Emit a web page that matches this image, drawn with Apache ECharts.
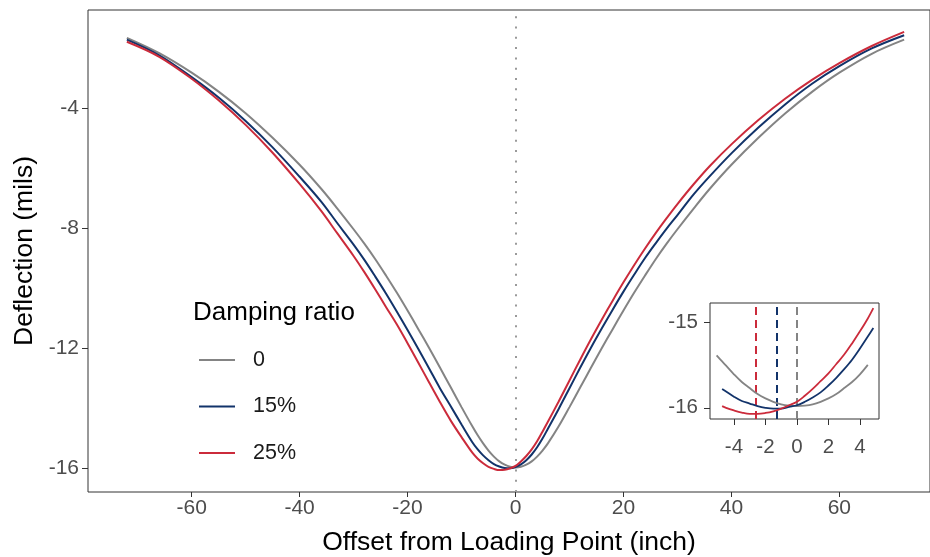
<!DOCTYPE html>
<html>
<head>
<meta charset="utf-8">
<script src="https://cdn.jsdelivr.net/npm/echarts@6/dist/echarts.min.js"></script>
<style>
  html, body { margin: 0; padding: 0; background: #fff; }
  #chart { width: 930px; height: 557px; }
</style>
</head>
<body>
<div id="chart"></div>
<script>
// Offsets (inch) shared by the three deflection profiles
const offsets = [-72, -66, -60, -55, -50, -45, -40, -36, -33, -30, -28, -26, -24, -22, -20, -18, -16, -14, -12, -10, -8, -7, -6, -5, -4, -3, -2, -1,
  0, 1, 2, 3, 4, 5, 6, 8, 10, 12, 14, 16, 18, 20, 22, 24, 26, 28, 30, 33, 36, 40, 45, 50, 55, 60, 66, 72];

// Deflection (mils), damping ratio 0
const defl0 = [-1.66, -2.17, -2.82, -3.45, -4.17, -4.99, -5.89, -6.69, -7.35, -8.04, -8.52, -9.03, -9.58, -10.15, -10.75, -11.37, -12.00, -12.65, -13.31, -13.97, -14.61, -14.91, -15.18, -15.42, -15.62, -15.78, -15.89, -15.96,
  -15.98, -15.96, -15.89, -15.78, -15.62, -15.42, -15.18, -14.61, -13.97, -13.31, -12.65, -12.00, -11.37, -10.75, -10.15, -9.58, -9.03, -8.52, -8.04, -7.35, -6.69, -5.89, -4.99, -4.17, -3.45, -2.82, -2.19, -1.72];

// Deflection (mils), damping ratio 15%
const defl15 = [-1.72, -2.24, -2.97, -3.65, -4.43, -5.31, -6.29, -7.12, -7.84, -8.55, -9.06, -9.61, -10.18, -10.78, -11.40, -12.03, -12.68, -13.34, -13.94, -14.55, -15.14, -15.38, -15.58, -15.74, -15.87, -15.95, -16.00, -16.01,
  -15.97, -15.88, -15.74, -15.55, -15.31, -15.02, -14.69, -14.03, -13.34, -12.65, -11.98, -11.34, -10.72, -10.12, -9.55, -9.00, -8.50, -8.02, -7.57, -6.88, -6.27, -5.51, -4.65, -3.87, -3.18, -2.60, -2.01, -1.57];

// Deflection (mils), damping ratio 25%
const defl25 = [-1.79, -2.29, -3.02, -3.74, -4.56, -5.49, -6.53, -7.43, -8.18, -8.93, -9.47, -10.04, -10.63, -11.21, -11.84, -12.49, -13.15, -13.80, -14.42, -14.97, -15.49, -15.69, -15.84, -15.96, -16.03, -16.07, -16.06, -16.01,
  -15.93, -15.78, -15.60, -15.38, -15.11, -14.79, -14.46, -13.78, -13.08, -12.38, -11.70, -11.05, -10.42, -9.81, -9.23, -8.68, -8.16, -7.67, -7.20, -6.54, -5.93, -5.21, -4.40, -3.68, -3.05, -2.50, -1.93, -1.46];

// Close-up around the load point
const nearOffsets = [-5.1, -4.75, -4.5, -4, -3.5, -3, -2.5, -2, -1.5, -1, -0.5, 0, 0.5, 1, 1.5, 2, 2.5, 3, 3.5, 4, 4.5, 4.85];
const near0  = [-15.39, -15.46, -15.51, -15.61, -15.70, -15.77, -15.84, -15.89, -15.93, -15.96, -15.975, -15.98, -15.975, -15.96, -15.93, -15.89, -15.84, -15.77, -15.70, -15.61, -15.50, null];
const near15 = [null, -15.78, -15.81, -15.87, -15.92, -15.95, -15.98, -16.00, -16.01, -16.01, -15.99, -15.97, -15.93, -15.88, -15.82, -15.74, -15.65, -15.55, -15.44, -15.31, -15.17, -15.07];
const near25 = [null, -15.98, -16.00, -16.03, -16.055, -16.07, -16.07, -16.06, -16.04, -16.01, -15.97, -15.93, -15.86, -15.78, -15.69, -15.60, -15.49, -15.38, -15.25, -15.11, -14.96, -14.84];

// Offset of the peak deflection for each damping ratio
const peakOffsets = [0, -1.29, -2.62];

const seriesNames = ['0', '15%', '25%'];
const seriesColors = ['#848484', '#12336a', '#cb2b3b'];

const xTicks = [-60, -40, -20, 0, 20, 40, 60];
const yTicks = [-16, -12, -8, -4];
const nearXTicks = [-4, -2, 0, 2, 4];
const nearYTicks = [-16, -15];

const FONT = '"Liberation Sans", Arial, sans-serif';

function pairs(xs, ys) {
  return xs.map((x, i) => [x, ys[i]]);
}

const mainSets = [defl0, defl15, defl25];
const nearSets = [near0, near15, near25];

const series = [];
mainSets.forEach((set, i) => {
  const s = {
    name: seriesNames[i],
    type: 'line',
    xAxisIndex: 0,
    yAxisIndex: 0,
    data: pairs(offsets, set),
    smooth: 0.35,
    showSymbol: false,
    color: seriesColors[i],
    lineStyle: { color: seriesColors[i], width: 2 },
    z: 3 + i
  };
  if (i === 0) {
    // dotted reference line through the loading point
    s.markLine = {
      silent: true,
      symbol: 'none',
      label: { show: false },
      lineStyle: { type: [2, 8.3], color: '#9a9a9a', width: 2 },
      data: [{ xAxis: 0 }],
      z: 1
    };
  }
  series.push(s);
});
nearSets.forEach((set, i) => {
  series.push({
    name: seriesNames[i],
    type: 'line',
    xAxisIndex: 1,
    yAxisIndex: 1,
    data: pairs(nearOffsets, set),
    smooth: 0.35,
    showSymbol: false,
    color: seriesColors[i],
    lineStyle: { color: seriesColors[i], width: 1.8 },
    z: 20 + i,
    markLine: {
      silent: true,
      symbol: 'none',
      label: { show: false },
      lineStyle: { type: [8, 5], color: seriesColors[i], width: 2 },
      data: [{ xAxis: peakOffsets[i] }],
      z: 20
    }
  });
});

const tickLabel = { fontFamily: FONT, fontSize: 21, color: '#4d4d4d' };
const noLine = { show: false, onZero: false };

// x extent of the main panel: panel runs off the right edge of the canvas
const mainXMin = -79.2;
const mainXMax = 76.79;

const option = {
  animation: false,
  backgroundColor: '#fff',
  title: {
    text: 'Damping ratio',
    left: 193,
    top: 300,
    padding: 0,
    textStyle: { fontFamily: FONT, fontSize: 26, fontWeight: 'normal', color: '#000' }
  },
  legend: {
    data: seriesNames,
    orient: 'vertical',
    left: 199,
    top: 349,
    padding: 0,
    icon: 'rect',
    itemWidth: 36,
    itemHeight: 2,
    itemGap: 24.5,
    textStyle: { fontFamily: FONT, fontSize: 21.5, color: '#1a1a1a', lineHeight: 22, padding: [0, 0, 0, 13] },
    selectedMode: false
  },
  grid: [
    { left: 88, right: 0, top: 10, bottom: 65, containLabel: false, outerBoundsMode: 'none',
      show: true, borderColor: '#333', borderWidth: 1, backgroundColor: 'transparent' },
    { left: 710, top: 303, width: 169, height: 116, containLabel: false, outerBoundsMode: 'none',
      show: true, borderColor: '#333', borderWidth: 1, backgroundColor: '#fff' }
  ],
  xAxis: [
    {
      type: 'value', gridIndex: 0, min: mainXMin, max: mainXMax,
      name: 'Offset from Loading Point (inch)', nameLocation: 'middle', nameGap: 37,
      nameTextStyle: { fontFamily: FONT, fontSize: 26.5, color: '#000' },
      axisLine: noLine,
      axisTick: { show: true, customValues: xTicks, length: 5, lineStyle: { color: '#333', width: 1 } },
      axisLabel: { customValues: xTicks, margin: 6, ...tickLabel },
      splitLine: { show: false }
    },
    {
      type: 'value', gridIndex: 1, min: -5.52, max: 5.21,
      axisLine: noLine,
      axisTick: { show: true, customValues: nearXTicks, length: 6, lineStyle: { color: '#333', width: 1 } },
      axisLabel: { customValues: nearXTicks, margin: 18, ...tickLabel, fontSize: 20.5 },
      splitLine: { show: false }
    }
  ],
  yAxis: [
    {
      type: 'value', gridIndex: 0, min: -16.8, max: -0.73,
      name: 'Deflection (mils)', nameLocation: 'middle', nameGap: 50,
      nameTextStyle: { fontFamily: FONT, fontSize: 26.5, color: '#000' },
      axisLine: noLine,
      axisTick: { show: true, customValues: yTicks, length: 6, lineStyle: { color: '#333', width: 1 } },
      axisLabel: { customValues: yTicks, margin: 9, ...tickLabel },
      splitLine: { show: false }
    },
    {
      type: 'value', gridIndex: 1, min: -16.13, max: -14.78,
      axisLine: noLine,
      axisTick: { show: true, customValues: nearYTicks, length: 6, lineStyle: { color: '#333', width: 1 } },
      axisLabel: { customValues: nearYTicks, margin: 12, ...tickLabel, fontSize: 20.5 },
      splitLine: { show: false }
    }
  ],
  series: series
};

const chart = echarts.init(document.getElementById('chart'), null, { renderer: 'canvas' });
chart.setOption(option);
</script>
</body>
</html>
